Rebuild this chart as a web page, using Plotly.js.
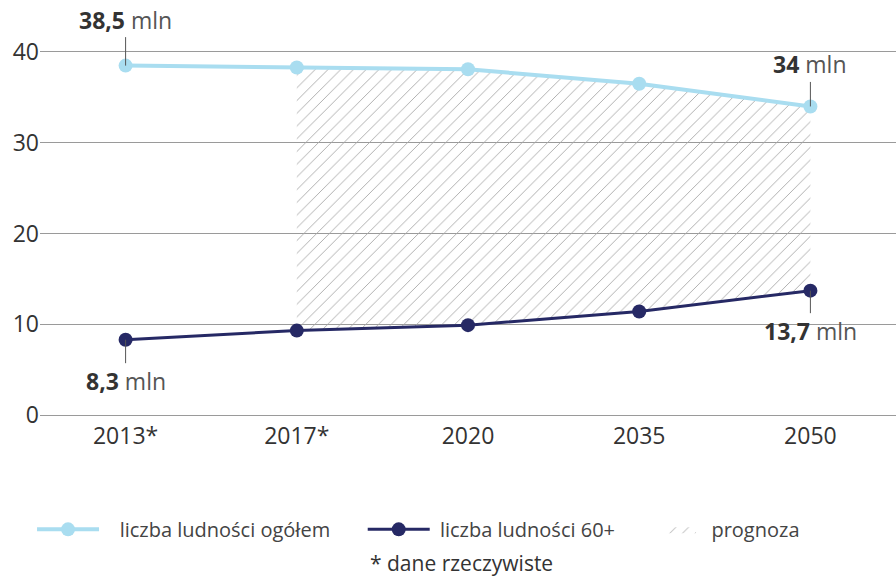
<!DOCTYPE html>
<html>
<head>
<meta charset="utf-8">
<script src="https://cdn.plot.ly/plotly-3.0.1.min.js"></script>
<style>html,body{margin:0;padding:0;background:#fff;}#chart{width:896px;height:579px;}</style>
</head>
<body>
<div id="chart"></div>
<script>
var years = ['2013*', '2017*', '2020', '2035', '2050'];
var totalPop = [38.5, 38.3, 38.1, 36.5, 34.0];
var pop60 = [8.3, 9.3, 9.9, 11.4, 13.7];
var forecastStart = 1; // index of first forecast category
var yTicks = [0, 10, 20, 30, 40];
var labels = [
  {i: 0, s: 'total', bold: '38,5', unit: 'mln', ay: -46},
  {i: 4, s: 'total', bold: '34', unit: 'mln', ay: -42},
  {i: 4, s: 'p60', bold: '13,7', unit: 'mln', ay: 40},
  {i: 0, s: 'p60', bold: '8,3', unit: 'mln', ay: 41}
];

var FONT = 'Open Sans, Noto Sans, sans-serif';
var LIGHT = '#a9ddf0';
var NAVY = '#262965';
var GRID = '#9a9a9a';
var NB = '\u00A0';

var traces = [
  {
    x: years.slice(forecastStart), y: pop60.slice(forecastStart),
    mode: 'lines', line: {width: 0, color: 'rgba(0,0,0,0)'},
    type: 'scatter', showlegend: false, hoverinfo: 'skip'
  },
  {
    x: years.slice(forecastStart), y: totalPop.slice(forecastStart),
    mode: 'lines', line: {width: 0, color: 'rgba(0,0,0,0)'},
    type: 'scatter', fill: 'tonexty', name: NB + NB + 'prognoza',
    fillcolor: 'rgba(0,0,0,0)',
    fillpattern: {shape: '/', fgcolor: '#a8a8a8', bgcolor: 'rgba(0,0,0,0)', fgopacity: 1, size: 9, solidity: 0.1},
    legend: 'legend3'
  },
  {
    x: years, y: totalPop, mode: 'lines+markers', type: 'scatter',
    name: NB + NB + NB + 'liczba ludności ogółem',
    line: {color: LIGHT, width: 4},
    marker: {color: LIGHT, size: 14},
    cliponaxis: false, legend: 'legend'
  },
  {
    x: years, y: pop60, mode: 'lines+markers', type: 'scatter',
    name: NB + 'liczba ludności 60+',
    line: {color: NAVY, width: 3},
    marker: {color: NAVY, size: 14},
    cliponaxis: false, legend: 'legend2'
  }
];

var annotations = labels.map(function (l) {
  var arr = l.s === 'total' ? totalPop : pop60;
  return {
    x: l.i, y: arr[l.i], xref: 'x', yref: 'y',
    text: '<b>' + l.bold + '</b> <span style="color:#555">' + l.unit + '</span>',
    showarrow: true, arrowhead: 0, arrowwidth: 1, arrowcolor: '#555',
    ax: 0, ay: l.ay, standoff: 0,
    font: {family: FONT, size: 23, color: '#333'}
  };
});
annotations.push({
  xref: 'paper', yref: 'paper', x: 0.492, y: -0.408, xanchor: 'center', yanchor: 'middle',
  text: '* dane rzeczywiste', showarrow: false,
  font: {family: FONT, size: 21, color: '#333'}
});

var legendBase = {
  orientation: 'h', yanchor: 'middle', y: -0.315, xanchor: 'left',
  font: {family: FONT, size: 20, color: '#444'},
  bgcolor: 'rgba(0,0,0,0)', borderwidth: 0
};

var layout = {
  width: 896, height: 579,
  margin: {l: 40, r: 0, t: 52, b: 164},
  paper_bgcolor: '#fff', plot_bgcolor: '#fff',
  font: {family: FONT, color: '#333'},
  xaxis: {
    type: 'category', categoryorder: 'array', categoryarray: years,
    range: [-0.5, 4.5], showgrid: false, zeroline: false,
    showline: true, mirror: true, linecolor: GRID, linewidth: 1,
    ticks: '', tickfont: {family: FONT, size: 23, color: '#333'},
    fixedrange: true
  },
  yaxis: {
    range: [0, 40], tickvals: yTicks, showgrid: true, gridcolor: GRID, gridwidth: 1,
    zeroline: false, showline: false, ticks: '',
    tickfont: {family: FONT, size: 23, color: '#333'}, fixedrange: true
  },
  legend: Object.assign({}, legendBase, {x: -0.0093, itemwidth: 62}),
  legend2: Object.assign({}, legendBase, {x: 0.377, itemwidth: 62}),
  legend3: Object.assign({}, legendBase, {x: 0.7255, itemwidth: 30}),
  annotations: annotations,
  showlegend: true
};

Plotly.newPlot('chart', traces, layout, {displayModeBar: false, staticPlot: true});
</script>
</body>
</html>
